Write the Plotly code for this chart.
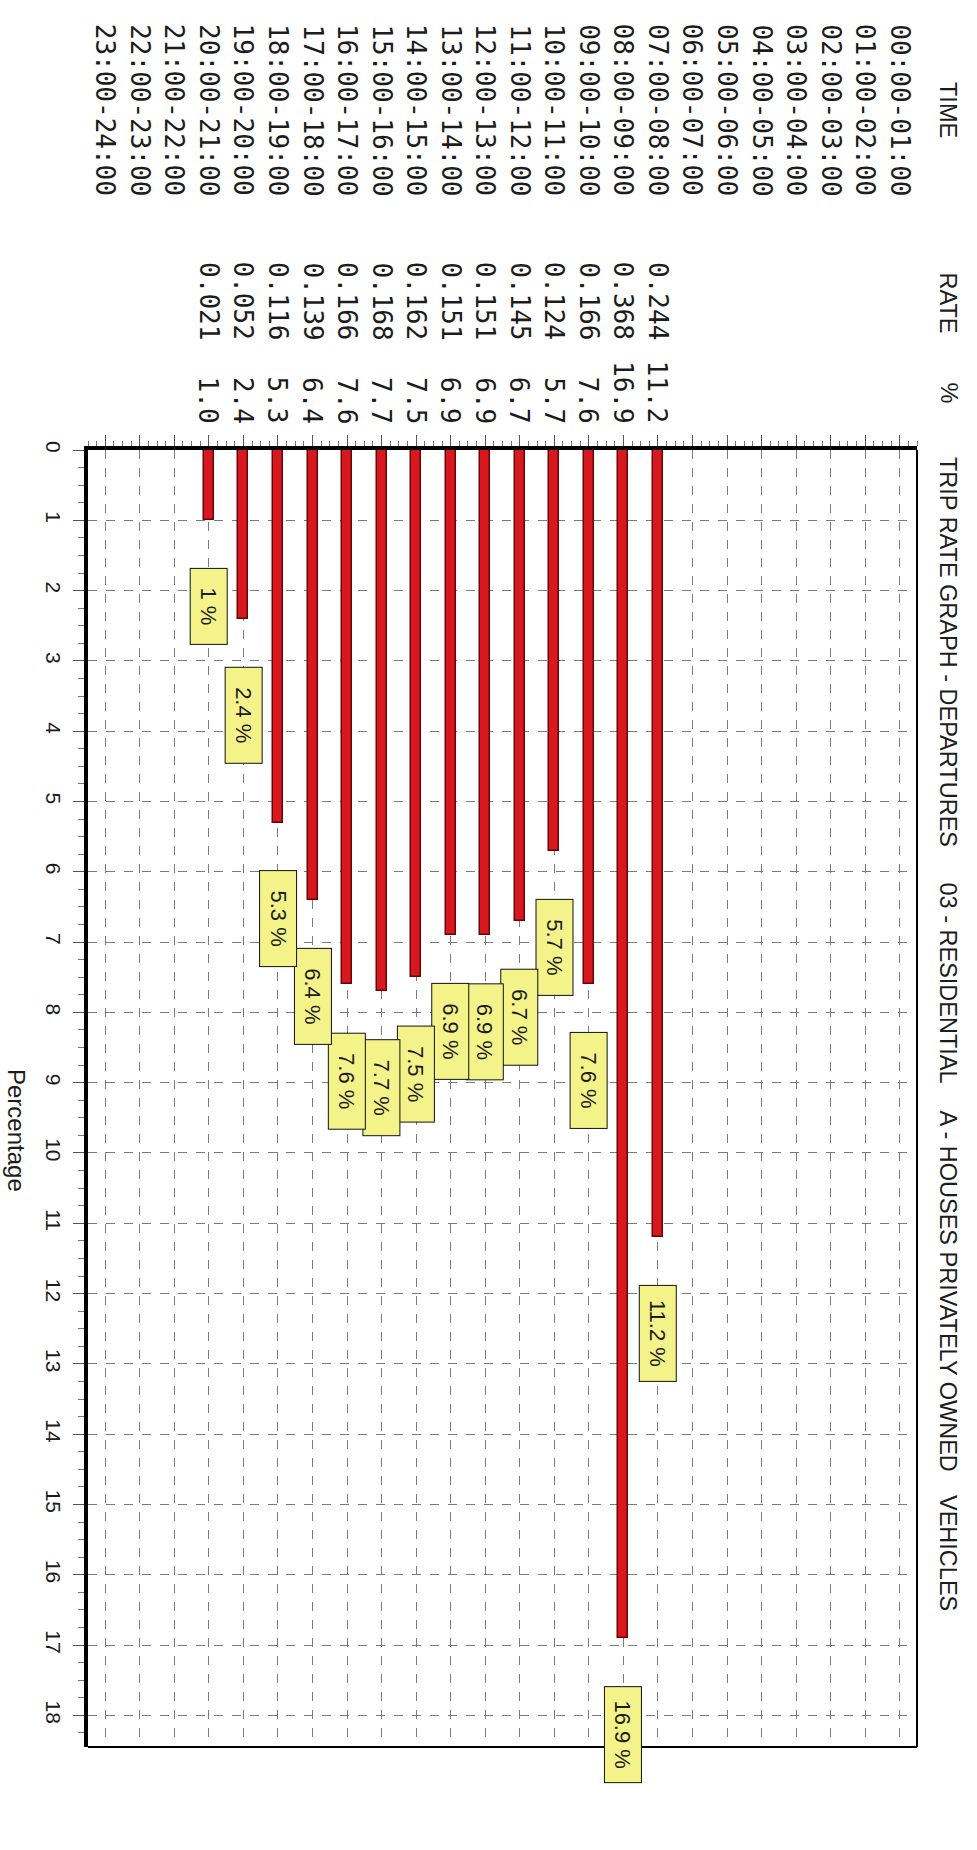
import plotly.graph_objects as go

# ---------------- data ----------------
time_labels = [
    "00:00-01:00", "01:00-02:00", "02:00-03:00", "03:00-04:00", "04:00-05:00",
    "05:00-06:00", "06:00-07:00", "07:00-08:00", "08:00-09:00", "09:00-10:00",
    "10:00-11:00", "11:00-12:00", "12:00-13:00", "13:00-14:00", "14:00-15:00",
    "15:00-16:00", "16:00-17:00", "17:00-18:00", "18:00-19:00", "19:00-20:00",
    "20:00-21:00", "21:00-22:00", "22:00-23:00", "23:00-24:00",
]
slot_index = list(range(24))

data_slots = [7, 8, 9, 10, 11, 12, 13, 14, 15, 16, 17, 18, 19, 20]
rates = ["0.244", "0.368", "0.166", "0.124", "0.145", "0.151", "0.151",
         "0.162", "0.168", "0.166", "0.139", "0.116", "0.052", "0.021"]
percents = [11.2, 16.9, 7.6, 5.7, 6.7, 6.9, 6.9, 7.5, 7.7, 7.6, 6.4, 5.3, 2.4, 1.0]

title_parts = ["TRIP RATE GRAPH - DEPARTURES", "03 - RESIDENTIAL",
               "A - HOUSES PRIVATELY OWNED", "VEHICLES"]
header_parts = ["TIME", "RATE", "%"]
axis_title = "Percentage"

# ---------------- layout geometry (pixels) ----------------
W, H = 977, 1850
L, R, T, B = 88, 917, 450, 1747


def pxx(px):
    return (px - L) / (R - L)


def pxy(py):
    return (B - py) / (B - T)


SANS = "Liberation Sans, Arial, sans-serif"
MONO = "DejaVu Sans Mono, Liberation Mono, monospace"
INK = "#1c1c1c"

fig = go.Figure()
fig.add_trace(go.Bar(
    x=data_slots, y=percents, width=0.29,
    marker=dict(color="#d7181f", line=dict(color="#6a0505", width=1.5)),
    hoverinfo="skip", showlegend=False,
))

ann = []
# title (rotated, right side)
title_starts = [455, 880, 1108, 1493]
for txt, ys in zip(title_parts, title_starts):
    ann.append(dict(text=txt, xref="paper", yref="paper", x=pxx(948), y=pxy(ys),
                    xanchor="center", yanchor="top", textangle=90, showarrow=False,
                    font=dict(family=SANS, size=23.5, color=INK)))
# column headers
header_starts = [80, 270, 380]
for txt, ys in zip(header_parts, header_starts):
    ann.append(dict(text=txt, xref="paper", yref="paper", x=pxx(948), y=pxy(ys),
                    xanchor="center", yanchor="top", textangle=90, showarrow=False,
                    font=dict(family=SANS, size=23.5, color=INK)))
# time labels
for s, lab in zip(slot_index, time_labels):
    ann.append(dict(text=lab, xref="x", yref="paper", x=s, y=pxy(110),
                    xanchor="center", yanchor="middle", textangle=90, showarrow=False,
                    font=dict(family=MONO, size=26, color=INK)))
# rate and percent columns
for s, r, p in zip(data_slots, rates, percents):
    ann.append(dict(text=r, xref="x", yref="paper", x=s, y=pxy(301),
                    xanchor="center", yanchor="middle", textangle=90, showarrow=False,
                    font=dict(family=MONO, size=26, color=INK)))
    ann.append(dict(text=f"{p:.1f}", xref="x", yref="paper", x=s, y=pxy(426),
                    xanchor="center", yanchor="bottom", textangle=90, showarrow=False,
                    font=dict(family=MONO, size=26, color=INK)))
# value label boxes
for s, p in zip(data_slots, percents):
    txt = f"{p:g} %"
    ann.append(dict(text=txt, xref="x", yref="y", x=s, y=p,
                    xanchor="center", yanchor="top", yshift=-48,
                    textangle=90, showarrow=False,
                    width=73 if len(txt) <= 3 else 93, height=34,
                    bgcolor="#f3f38a", bordercolor="#111", borderwidth=1, borderpad=1,
                    font=dict(family=SANS, size=22, color=INK)))
# axis title
ann.append(dict(text=axis_title, xref="paper", yref="paper", x=pxx(17), y=pxy(1130),
                xanchor="center", yanchor="middle", textangle=90, showarrow=False,
                font=dict(family=SANS, size=24, color=INK)))

shapes = [
    dict(type="line", xref="paper", yref="paper", x0=1, x1=1, y0=0, y1=1,
         line=dict(color="#000", width=2)),
    dict(type="line", xref="paper", yref="paper", x0=0, x1=1, y0=0, y1=0,
         line=dict(color="#000", width=2)),
]

fig.update_layout(
    width=W, height=H,
    margin=dict(l=L, r=W - R, t=T, b=H - B, pad=0),
    paper_bgcolor="white", plot_bgcolor="white",
    annotations=ann, shapes=shapes, bargap=0,
    xaxis=dict(
        side="top", range=[23.5, -0.5], tickmode="linear", tick0=0, dtick=1,
        showticklabels=False, ticks="outside", ticklen=11, tickwidth=1, tickcolor="#555",
        minor=dict(ticks="outside", ticklen=5, tickcolor="#777", dtick=0.25, tick0=0,
                   showgrid=False),
        showline=True, linewidth=4, linecolor="#000",
        showgrid=True, gridcolor="#7a7a7a", gridwidth=1, griddash="dash",
        zeroline=False, fixedrange=True,
    ),
    yaxis=dict(
        range=[18.45, 0], tickmode="linear", tick0=0, dtick=1,
        tickangle=90, ticks="outside", ticklen=11, tickwidth=1, tickcolor="#555",
        ticklabelstandoff=2,
        tickfont=dict(family=SANS, size=21, color=INK),
        minor=dict(ticks="outside", ticklen=6, tickcolor="#777", dtick=0.25, tick0=0,
                   showgrid=False),
        showline=True, linewidth=4, linecolor="#000",
        showgrid=True, gridcolor="#7a7a7a", gridwidth=1, griddash="dash",
        zeroline=False, fixedrange=True,
    ),
)

fig.write_html("out.html", config={"displayModeBar": False},
               post_script="document.body.style.margin='0px';")
